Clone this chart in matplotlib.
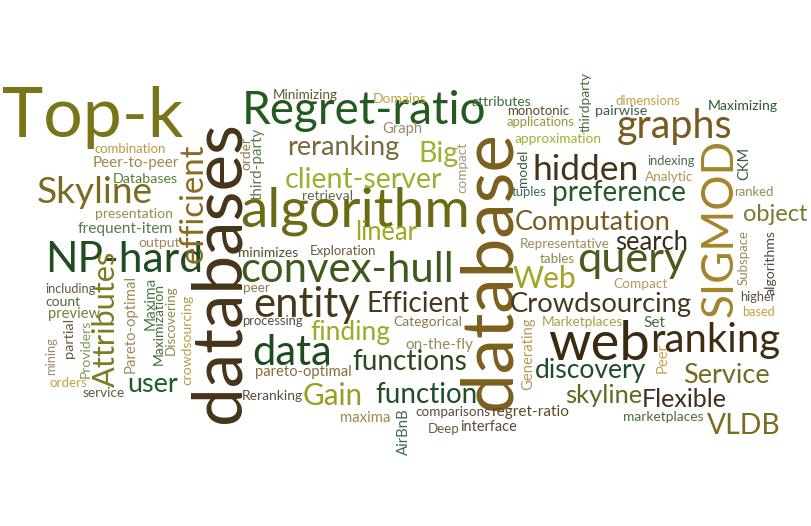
import matplotlib
matplotlib.use("Agg")
import matplotlib.pyplot as plt

# word cloud terms (biggest first) and their colours
words = [
    "Top-k", "databases", "database", "algorithm", "Regret-ratio", "SIGMOD",
    "NP-hard", "convex-hull", "web", "ranking", "query", "graphs", "hidden",
    "entity", "data", "Crowdsourcing", "Computation", "Attributes", "Skyline",
    "client-server", "preference", "Efficient", "efficient", "functions",
    "function", "discovery", "reranking", "Big", "Service", "Flexible",
    "skyline", "VLDB", "search", "finding", "Gain", "object", "Web", "linear",
    "Representative", "approximation", "Peer-to-peer", "frequent-item",
    "pareto-optimal", "Pareto-optimal", "crowdsourcing", "Maximization",
    "Marketplaces", "marketplaces", "presentation", "regret-ratio",
    "comparisons", "combination", "Maximizing", "Generating", "third-party",
    "Discovering", "on-the-fly", "Categorical", "applications", "Exploration",
    "dimensions", "Minimizing", "attributes", "monotonic", "Databases",
    "algorithms", "processing", "Reranking", "minimizes", "Providers",
    "interface", "thirdparty", "Subspace", "Domains", "Compact", "preview",
    "pairwise", "retrieval", "including", "indexing", "Analytic", "Maxima",
    "compact", "AirBnB", "maxima", "output", "service", "partial", "mining",
    "orders", "ranked", "higher", "tables", "tuples", "model", "based",
    "Graph", "count", "order", "user", "Deep", "peer", "Peer", "CKM", "Set",
]

colors = [
    "#7b7519", "#45341a", "#7a5f1e", "#6c6b14", "#235a1f", "#a3862a",
    "#1f4c21", "#3d5b1c", "#3b2a12", "#3f2d13", "#4c5a1c", "#785a22", "#45341a",
    "#47371b", "#1f4a20", "#47371c", "#7a5a1e", "#7d7a1e", "#7a6b20",
    "#9bb02e", "#27592a", "#48381c", "#8b6a22", "#2b4b1d",
    "#1f4c2a", "#1f4b2b", "#7a6a3b", "#9eb12f", "#7a6a1f", "#3f2f19",
    "#5b6b1d", "#7b6c22", "#3b2b1a", "#9bab22", "#9b9a22", "#7b7a2c", "#a3a326", "#9bab24",
    "#9c8b5b", "#a0b032", "#9a8a4c", "#5b7a4b",
    "#8b6b3b", "#9a8a5c", "#b3a242", "#4b6b3c",
    "#a2a243", "#4b6b3c", "#9a8a4c", "#5b4b2c",
    "#5b4b3c", "#b99b3e", "#2b5b2c", "#b39b5c", "#5b7b4c",
    "#8b8b4c", "#9a8a5c", "#8b7b4c", "#8b9b3c", "#6b5b3c",
    "#c1a243", "#5b5b2c", "#3d6b3d", "#5b4b2c", "#5b7b3c",
    "#5b4b3c", "#5b4b3c", "#5b4b3c", "#5b4b2c", "#7b9b5c",
    "#5b4b3c", "#4b6b3c", "#9a8a5c", "#c1a243", "#b39b5c", "#7b7b3c",
    "#3b5b4b", "#5b6b4b", "#5b5b3c", "#4b6b4b", "#b3934b", "#4b7b4b",
    "#a3937b", "#3b6b4b", "#9a8a4c", "#9a8a5c", "#5b5b3c", "#6b5b3c", "#9a8a6b",
    "#c1a243", "#9a8a5c", "#5b4b3c", "#8b8b4c", "#3b6b4b", "#3b5b3b", "#c1a243",
    "#9a8a6b", "#4b6b3c", "#8b7b4c", "#1f5b2b", "#6b5b3c", "#8b7b4c", "#c1a353", "#3b5b3b", "#4b6b3c",
]

# layout: (x, baseline y, extent along the text, rotation)
# horizontal words: x = left edge; vertical words: x = baseline, y = bottom end
layout = {
    "Top-k": (2, 137, 183, 0), "databases": (240, 423, 303, 90),
    "database": (510, 410, 280, 90), "algorithm": (240, 226, 230, 0),
    "Regret-ratio": (242, 124, 245, 0), "SIGMOD": (733, 317, 177, 90),
    "NP-hard": (45, 272, 158, 0), "convex-hull": (240, 282, 213, 0),
    "web": (548, 360, 102, 0), "ranking": (650, 352, 130, 0),
    "query": (577, 272, 110, 0), "graphs": (617, 138, 116, 0),
    "hidden": (533, 180, 107, 0), "entity": (253, 317, 107, 0),
    "data": (252, 365, 80, 0), "Crowdsourcing": (510, 312, 183, 0),
    "Computation": (515, 230, 157, 0), "Attributes": (115, 387, 137, 90),
    "Skyline": (37, 203, 116, 0), "client-server": (285, 188, 158, 0),
    "preference": (552, 201, 135, 0), "Efficient": (367, 312, 103, 0),
    "efficient": (203, 263, 120, 90), "functions": (352, 370, 115, 0),
    "function": (375, 403, 102, 0), "discovery": (535, 378, 112, 0),
    "reranking": (287, 155, 113, 0), "Big": (418, 162, 40, 0),
    "Service": (683, 383, 87, 0), "Flexible": (642, 407, 85, 0),
    "skyline": (565, 403, 77, 0), "VLDB": (707, 434, 73, 0),
    "search": (615, 250, 73, 0), "finding": (310, 340, 80, 0),
    "Gain": (303, 405, 60, 0), "object": (743, 221, 65, 0),
    "Web": (513, 288, 64, 0), "linear": (355, 240, 62, 0),
    "Representative": (520, 248, 90, 0), "approximation": (515, 143, 87, 0),
    "Peer-to-peer": (93, 167, 87, 0), "frequent-item": (78, 233, 95, 0),
    "pareto-optimal": (255, 376, 97, 0), "Pareto-optimal": (135, 373, 98, 90),
    "crowdsourcing": (191, 385, 90, 90), "Maximization": (163, 365, 82, 90),
    "Marketplaces": (542, 326, 81, 0), "marketplaces": (623, 421, 80, 0),
    "presentation": (95, 218, 78, 0), "regret-ratio": (492, 416, 78, 0),
    "comparisons": (415, 416, 75, 0), "combination": (95, 153, 72, 0),
    "Maximizing": (708, 110, 70, 0), "Generating": (532, 390, 72, 90),
    "third-party": (262, 200, 72, 90), "Discovering": (175, 355, 70, 90),
    "on-the-fly": (405, 349, 68, 0), "Categorical": (393, 326, 69, 0),
    "applications": (507, 126, 68, 0), "Exploration": (310, 255, 67, 0),
    "dimensions": (615, 105, 65, 0), "Minimizing": (273, 99, 65, 0),
    "attributes": (472, 106, 60, 0), "monotonic": (507, 115, 63, 0),
    "Databases": (113, 183, 65, 0), "algorithms": (775, 295, 65, 90),
    "processing": (242, 325, 61, 0), "Reranking": (242, 400, 61, 0),
    "minimizes": (238, 257, 60, 0), "Providers": (90, 378, 58, 90),
    "interface": (460, 431, 57, 0), "thirdparty": (590, 132, 60, 90),
    "Subspace": (748, 285, 55, 90), "Domains": (373, 103, 54, 0),
    "Compact": (613, 288, 54, 0), "preview": (48, 318, 52, 0),
    "pairwise": (595, 115, 52, 0), "retrieval": (302, 200, 51, 0),
    "including": (45, 293, 50, 0), "indexing": (647, 165, 48, 0),
    "Analytic": (645, 181, 48, 0), "Maxima": (155, 330, 53, 90),
    "compact": (466, 193, 51, 90), "AirBnB": (408, 455, 47, 90),
    "maxima": (340, 422, 50, 0), "output": (138, 247, 42, 0),
    "service": (83, 397, 42, 0), "partial": (73, 358, 40, 90),
    "mining": (55, 375, 38, 90), "orders": (50, 387, 38, 0),
    "ranked": (734, 196, 40, 0), "higher": (740, 301, 35, 0),
    "tables": (540, 263, 35, 0), "tuples": (512, 196, 35, 0),
    "model": (527, 187, 37, 90), "based": (742, 316, 33, 0),
    "Graph": (382, 133, 40, 0), "count": (45, 306, 35, 0),
    "order": (250, 170, 33, 90), "user": (127, 392, 51, 0),
    "Deep": (428, 433, 32, 0), "peer": (243, 292, 27, 0),
    "Peer": (667, 373, 30, 90), "CKM": (748, 180, 33, 90),
    "Set": (643, 327, 22, 0),
}

fig = plt.figure(figsize=(8.12, 5.26), dpi=100)
ax = fig.add_axes([0, 0, 1, 1])
ax.set_xlim(0, 812)
ax.set_ylim(526, 0)
ax.axis("off")
renderer = fig.canvas.get_renderer()

for word, color in zip(words, colors):
    x, y, length, rot = layout[word]
    t = ax.text(x, y, word, fontsize=10, family="Lato",
                color=color, ha="left", va="baseline", rotation_mode="anchor")
    # scale the font so the word spans the same length as in the picture
    t.set_fontsize(10 * length / t.get_window_extent(renderer).width)
    t.set_rotation(rot)

fig.savefig("out.png", dpi=100, facecolor="white")
